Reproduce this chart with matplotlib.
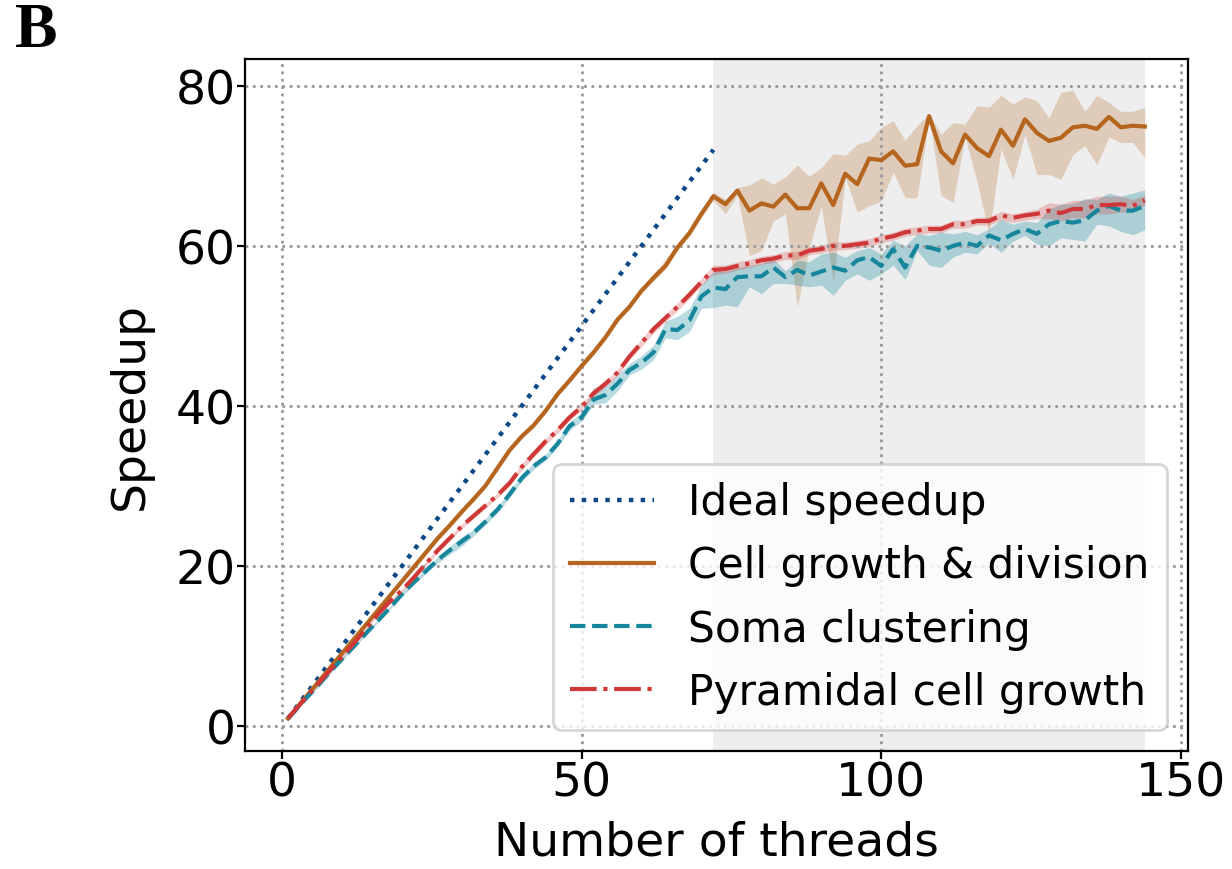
import matplotlib
matplotlib.use('Agg')
import matplotlib.pyplot as plt

# Thread counts (x axis)
threads = [1] + list(range(2, 145, 2))

# Ideal speedup, shown up to 72 threads
ideal_threads = threads[:37]
ideal_speedup = threads[:37]

# Cell growth & division
cell_mean = [1.0, 1.9, 3.7, 5.5, 7.3, 9.1, 10.9, 12.7, 14.5, 16.3, 18.1, 19.9, 21.7, 23.5, 25.1, 26.8, 28.4, 30.1,
             32.3, 34.5, 36.2, 37.6, 39.4, 41.5, 43.2, 45.0, 46.7, 48.6, 50.8, 52.4, 54.4, 56.0, 57.5, 59.8, 61.6, 64.0, 66.2,
             65.2, 66.9, 64.4, 65.3, 64.9, 66.4, 64.7, 64.7, 67.8, 65.1,
             69.0, 67.7, 70.9, 70.7, 71.8, 70.0, 70.2, 76.2, 71.8, 70.3,
             73.9, 72.2, 71.2, 74.5, 72.5, 75.8, 74.1, 73.1, 73.5, 74.8,
             75.0, 74.6, 76.1, 74.8, 75.0, 74.9]
cell_low = [0.9, 1.8, 3.5, 5.3, 7.1, 8.9, 10.7, 12.5, 14.3, 16.1, 17.9, 19.6, 21.4, 23.2, 24.8, 26.5, 28.1, 29.8,
            32.0, 34.2, 35.9, 37.3, 39.1, 41.2, 42.9, 44.7, 46.4, 48.3, 50.5, 52.1, 54.1, 55.6, 57.1, 59.4, 61.2, 63.5, 65.7,
            64.0, 66.3, 58.8, 59.4, 63.1, 64.0, 52.4, 59.8, 65.0, 55.5,
            68.5, 64.2, 65.0, 65.6, 69.2, 66.0, 66.0, 76.0, 66.3, 65.4,
            73.6, 68.0, 61.5, 72.1, 68.3, 73.9, 68.9, 68.9, 68.3, 71.4,
            72.5, 70.1, 73.6, 72.9, 72.9, 71.0]
cell_high = [1.1, 2.0, 3.9, 5.7, 7.5, 9.3, 11.1, 12.9, 14.7, 16.5, 18.3, 20.2, 22.0, 23.8, 25.4, 27.1, 28.7, 30.4,
             32.6, 34.8, 36.5, 37.9, 39.7, 41.8, 43.5, 45.3, 47.0, 48.9, 51.1, 52.7, 54.8, 56.6, 58.3, 60.3, 62.1, 64.5, 66.7,
             65.8, 67.3, 67.6, 68.5, 67.7, 68.6, 70.1, 68.7, 69.8, 71.5,
             71.3, 72.7, 73.1, 74.8, 75.6, 73.2, 75.0, 76.5, 73.9, 75.4,
             75.2, 77.5, 77.3, 78.8, 77.7, 78.6, 78.1, 76.0, 79.2, 79.4,
             76.8, 78.8, 77.9, 76.8, 76.8, 77.3]

# Soma clustering
soma_mean = [1.0, 1.8, 3.5, 5.1, 6.8, 8.4, 10.0, 11.6, 13.2, 14.8, 16.5, 18.0, 19.4, 20.8, 22.0, 23.1, 24.2, 25.6,
             27.1, 29.0, 31.0, 32.5, 33.6, 35.3, 37.5, 38.6, 40.8, 41.4, 42.8, 44.5, 45.4, 46.7, 49.6, 49.5, 50.7, 53.7, 54.8,
             54.6, 56.1, 56.2, 56.2, 57.3, 56.1, 57.0, 56.3, 56.8, 57.3,
             56.9, 58.2, 58.6, 57.5, 59.6, 57.3, 60.0, 59.8, 59.4, 60.0,
             60.4, 60.0, 61.3, 60.7, 61.5, 62.1, 61.5, 62.7, 63.1, 62.9,
             63.2, 64.4, 65.0, 64.4, 64.4, 65.0]
soma_low = [0.9, 1.6, 3.3, 4.9, 6.6, 8.2, 9.8, 11.4, 13.0, 14.6, 16.2, 17.7, 19.1, 20.4, 21.5, 22.5, 23.8, 25.2,
            26.7, 28.6, 30.6, 32.1, 33.2, 34.9, 37.0, 38.1, 40.2, 40.4, 41.9, 43.9, 44.6, 45.8, 48.5, 48.3, 49.3, 52.2, 52.3,
            52.6, 52.4, 54.9, 54.0, 55.3, 55.3, 55.1, 54.9, 55.1, 53.8,
            55.7, 56.5, 55.7, 56.5, 57.6, 55.8, 59.4, 57.6, 57.3, 58.6,
            59.2, 59.0, 60.3, 59.2, 60.6, 61.3, 60.2, 60.0, 61.0, 60.8,
            60.6, 62.7, 62.5, 61.8, 61.4, 62.0]
soma_high = [1.1, 2.0, 3.7, 5.3, 7.0, 8.6, 10.2, 11.8, 13.4, 15.0, 16.8, 18.3, 19.7, 21.2, 22.5, 23.7, 24.6, 26.0,
             27.5, 29.4, 31.4, 32.9, 34.0, 35.7, 38.0, 39.2, 42.3, 42.5, 43.9, 45.3, 46.3, 47.6, 50.6, 51.2, 52.2, 55.1, 56.8,
             56.8, 57.3, 57.5, 57.8, 58.4, 56.9, 58.2, 58.0, 59.0, 59.2,
             58.6, 59.4, 59.8, 59.0, 60.7, 60.0, 61.5, 61.3, 61.7, 61.5,
             61.8, 61.4, 62.1, 63.3, 62.7, 63.1, 62.9, 64.6, 65.2, 65.3,
             65.9, 65.8, 66.6, 66.2, 66.6, 67.0]

# Pyramidal cell growth
pyr_mean = [1.0, 1.9, 3.6, 5.3, 7.0, 8.7, 10.4, 12.2, 14.0, 15.6, 17.0, 18.6, 20.3, 22.0, 23.5, 25.0, 26.3, 27.6,
            28.9, 30.4, 32.4, 34.0, 35.6, 37.0, 38.6, 39.9, 41.6, 42.8, 44.2, 46.2, 47.9, 49.6, 51.0, 52.4, 53.9, 55.5, 57.0,
            57.1, 57.5, 57.8, 58.2, 58.4, 58.8, 58.8, 59.4, 59.6, 60.0,
            60.0, 60.2, 60.4, 60.9, 61.2, 61.7, 61.9, 62.1, 62.1, 62.7,
            62.7, 63.1, 63.1, 63.8, 63.5, 63.8, 64.0, 64.4, 64.1, 64.6,
            64.6, 65.1, 65.1, 65.2, 65.0, 65.7]
pyr_low = [0.9, 1.8, 3.4, 5.1, 6.8, 8.5, 10.2, 12.0, 13.8, 15.4, 16.8, 18.4, 20.0, 21.7, 23.2, 24.7, 26.0, 27.3,
           28.6, 30.1, 32.0, 33.6, 35.2, 36.6, 38.2, 39.5, 41.2, 42.4, 43.8, 45.8, 47.4, 49.1, 50.5, 51.9, 53.4, 55.0, 56.4,
           56.6, 57.0, 57.3, 57.7, 57.9, 58.3, 58.3, 58.9, 59.1, 59.5,
           59.5, 59.7, 59.9, 60.4, 60.7, 61.2, 61.4, 61.6, 61.6, 62.2,
           62.2, 62.6, 62.6, 63.2, 62.9, 63.2, 63.4, 63.4, 63.1, 63.5,
           63.5, 64.0, 64.0, 64.2, 64.2, 65.1]
pyr_high = [1.1, 2.0, 3.8, 5.5, 7.2, 8.9, 10.6, 12.4, 14.2, 15.8, 17.2, 18.8, 20.6, 22.3, 23.8, 25.3, 26.6, 27.9,
            29.2, 30.7, 32.8, 34.4, 36.0, 37.4, 39.0, 40.3, 42.0, 43.2, 44.6, 46.6, 48.4, 50.1, 51.5, 52.9, 54.4, 56.0, 57.6,
            57.6, 58.0, 58.3, 58.7, 58.9, 59.3, 59.3, 59.9, 60.1, 60.5,
            60.5, 60.7, 60.9, 61.4, 61.7, 62.2, 62.4, 62.6, 62.6, 63.2,
            63.2, 63.6, 63.6, 64.3, 64.0, 64.3, 64.6, 65.4, 65.2, 65.7,
            65.7, 66.2, 66.2, 66.2, 65.8, 66.3]

# Hyperthreading region
ht_start, ht_end = 72, 144

c_ideal = '#0b4a86'
c_cell = '#b5651d'
c_soma = '#16869c'
c_pyr = '#d03838'

plt.rcParams['font.family'] = 'DejaVu Sans'
plt.rcParams['font.size'] = 17

fig = plt.figure(figsize=(6.16, 4.35), dpi=200)
ax = fig.add_axes([0.199, 0.136, 0.765, 0.795])

ax.axvspan(ht_start, ht_end, color='#eeeeee', zorder=0, lw=0)

ax.plot(ideal_threads, ideal_speedup, ':', color=c_ideal, lw=1.6, label='Ideal speedup')

ax.fill_between(threads, cell_low, cell_high, color=c_cell, alpha=0.25, lw=0)
ax.plot(threads, cell_mean, '-', color=c_cell, lw=1.5, label='Cell growth & division')

ax.fill_between(threads, soma_low, soma_high, color=c_soma, alpha=0.3, lw=0)
ax.plot(threads, soma_mean, '--', color=c_soma, lw=1.5, label='Soma clustering')

ax.fill_between(threads, pyr_low, pyr_high, color=c_pyr, alpha=0.25, lw=0)
ax.plot(threads, pyr_mean, '-.', color=c_pyr, lw=1.5, label='Pyramidal cell growth')

ax.grid(True, linestyle=':', color='#999999', lw=1.0)
ax.set_yticks([0, 20, 40, 60, 80])
ax.set_xticks([0, 50, 100, 150])
ax.tick_params(labelsize=17, pad=0.5, length=3)
ax.set_xlabel('Number of threads', fontsize=17, labelpad=5)
ax.set_ylabel('Speedup', fontsize=17, labelpad=8)

ax.legend(loc='lower right', fontsize=15.2)

fig.text(0.012, 0.963, 'B', fontsize=23, fontweight='bold', family='Liberation Serif', va='center', ha='left')

fig.savefig('out.png', dpi=200)
